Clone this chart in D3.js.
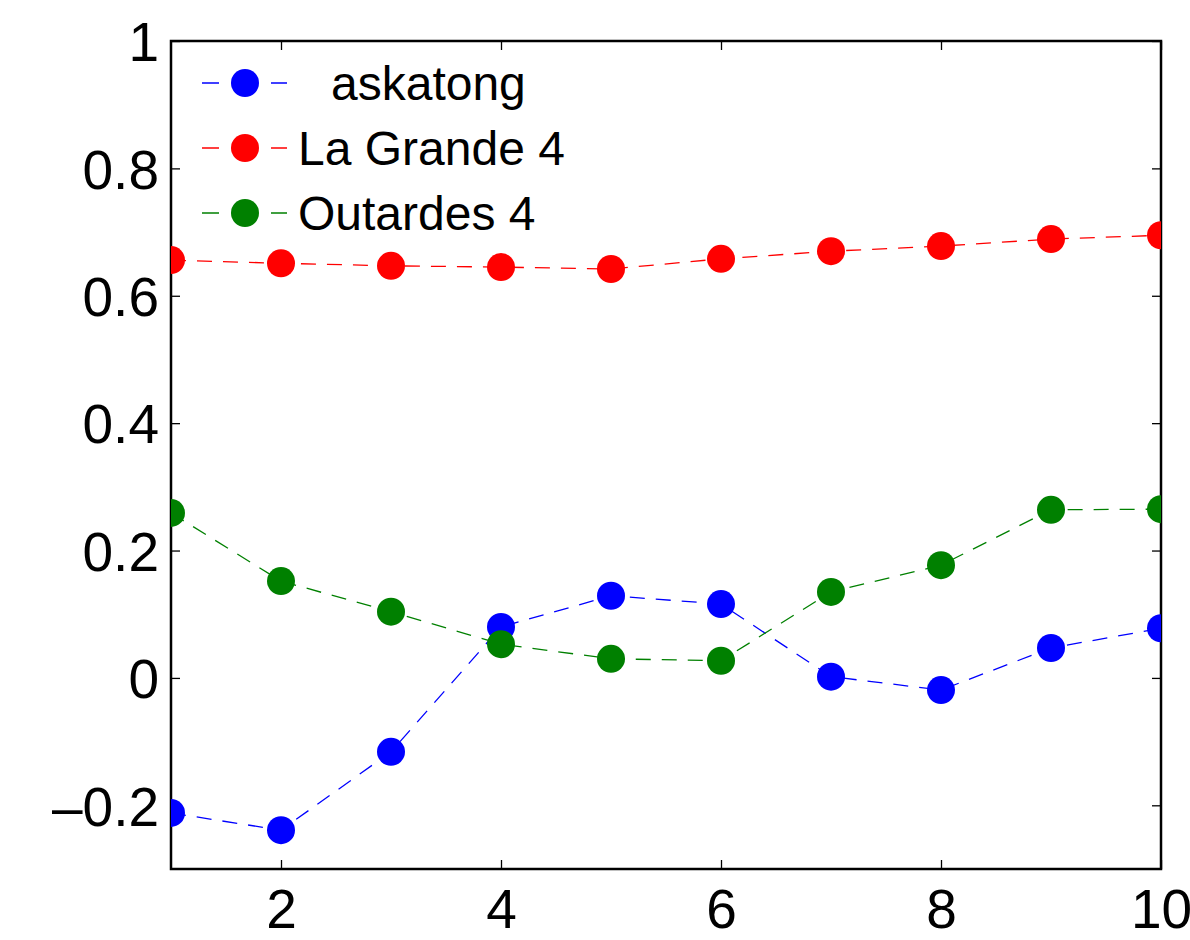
<!DOCTYPE html>
<html><head><meta charset="utf-8">
<script src="https://cdn.jsdelivr.net/npm/d3@7"></script>
<style>body{margin:0;background:#fff}svg{display:block}text{font-family:"Liberation Sans",Arial,Helvetica,sans-serif}</style>
</head><body>
<script>
const xValues = [1,2,3,4,5,6,7,8,9,10];
const askatong = [-0.212,-0.239,-0.116,0.080,0.129,0.116,0.002,-0.019,0.047,0.078];
const laGrande4 = [0.656,0.651,0.647,0.645,0.642,0.658,0.670,0.678,0.689,0.695];
const outardes4 = [0.259,0.152,0.104,0.053,0.030,0.027,0.135,0.177,0.264,0.265];
const seriesNames = ["askatong","La Grande 4","Outardes 4"];
const seriesColors = ["#0000ff","#ff0000","#008000"];
const xTicks = [2,4,6,8,10];
const yTicks = [-0.2,0,0.2,0.4,0.6,0.8,1];

const W=1190,H=940, L=171,R=1161,T=41,B=869;
const svg=d3.select("body").append("svg").attr("width",W).attr("height",H);
const x=d3.scaleLinear().domain([1,10]).range([L,R]);
const y=d3.scaleLinear().domain([-0.3,1]).range([B,T]);
const fmt=v=>v===0?"0":(v===1?"1":(v<0?"\u2013"+Math.abs(v).toString():v.toString()));

const tl=9;
const axB=svg.append("g").attr("transform",`translate(0,${B})`).call(d3.axisBottom(x).tickValues(xTicks).tickSizeInner(-tl).tickSizeOuter(0).tickPadding(20).tickFormat(d=>d));
const axT=svg.append("g").attr("transform",`translate(0,${T})`).call(d3.axisTop(x).tickValues(xTicks).tickSizeInner(-tl).tickSizeOuter(0).tickFormat(""));
const axL=svg.append("g").attr("transform",`translate(${L},0)`).call(d3.axisLeft(y).tickValues(yTicks).tickSizeInner(-tl).tickSizeOuter(0).tickPadding(12).tickFormat(fmt));
const axR=svg.append("g").attr("transform",`translate(${R},0)`).call(d3.axisRight(y).tickValues(yTicks).tickSizeInner(-tl).tickSizeOuter(0).tickFormat(""));
[axB,axT,axL,axR].forEach(a=>{a.select(".domain").remove();a.selectAll("line").attr("stroke","#000").attr("stroke-width",1.3);a.selectAll("text").attr("font-size",55).attr("fill","#000").attr("font-family","Liberation Sans, Arial, sans-serif");});
axB.selectAll("text").attr("dy","0.71em");
axL.selectAll("text").attr("dy","0.36em");

svg.append("rect").attr("x",L).attr("y",T).attr("width",R-L).attr("height",B-T).attr("fill","none").attr("stroke","#000").attr("stroke-width",2.5);

svg.append("clipPath").attr("id","c").append("rect").attr("x",L).attr("y",T).attr("width",R-L).attr("height",B-T);
const g=svg.append("g").attr("clip-path","url(#c)");
const data=[askatong,laGrande4,outardes4];
const line=d3.line().x((d,i)=>x(xValues[i])).y(d=>y(d));
data.forEach((s,k)=>{
  g.append("path").attr("d",line(s)).attr("fill","none").attr("stroke",seriesColors[k]).attr("stroke-width",1.3).attr("stroke-dasharray","15,11");
  g.selectAll(null).data(s).enter().append("circle").attr("cx",(d,i)=>x(xValues[i])).attr("cy",d=>y(d)).attr("r",14).attr("fill",seriesColors[k]);
});

const lg=svg.append("g");
const rowY=[83,148,213];
seriesNames.forEach((n,k)=>{
  lg.append("line").attr("x1",202).attr("x2",287).attr("y1",rowY[k]).attr("y2",rowY[k]).attr("stroke",seriesColors[k]).attr("stroke-width",1.3).attr("stroke-dasharray","17,52");
  lg.append("circle").attr("cx",245).attr("cy",rowY[k]).attr("r",14).attr("fill",seriesColors[k]);
  lg.append("text").attr("x",k===0?331:298).attr("y",rowY[k]).attr("dy","0.36em").attr("font-size",48).attr("fill","#000").text(n);
});
</script>
</body></html>
